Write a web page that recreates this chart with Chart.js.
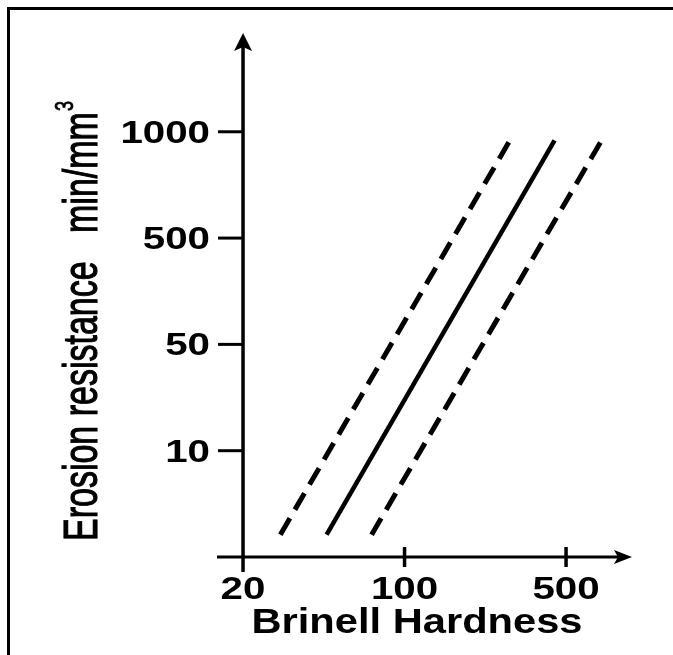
<!DOCTYPE html>
<html>
<head>
<meta charset="utf-8">
<title>Erosion resistance vs Brinell hardness</title>
<script src="https://cdn.jsdelivr.net/npm/chart.js@4/dist/chart.umd.min.js"></script>
<style>
  html, body { margin: 0; padding: 0; background: #fff; }
  #wrap { width: 673px; height: 655px; position: relative; }
</style>
</head>
<body>
<div id="wrap"><canvas id="erosionChart"></canvas></div>
<script>
// x axis: Brinell hardness (log scale), ticks as printed
const xTickValues = [20, 100, 500];
const xTickLabels = ['20', '100', '500'];

// y axis labels are printed at equal spacing, so y is kept as tick position 1..4
const yTickPositions = [1, 2, 3, 4];
const yTickLabels = ['10', '50', '500', '1000'];

// band lines (two end points each)
const lowerX = [29, 286];
const lowerY = [0.21, 3.92];
const meanX = [46, 446];
const meanY = [0.21, 3.92];
const upperX = [72, 713];
const upperY = [0.21, 3.92];

const xTitle = 'Brinell Hardness';
const yTitle = 'Erosion resistance   min/mm';
const yTitleSup = '3';

const FONT = '"Liberation Sans", Arial, Helvetica, sans-serif';

function toPoints(xs, ys) {
  return xs.map((x, i) => ({ x: x, y: ys[i] }));
}

// stretched text helper (the scan has wide lettering)
function drawText(ctx, text, x, y, opts) {
  ctx.save();
  ctx.translate(x, y);
  ctx.scale(opts.sx || 1, 1);
  if (opts.rotate) ctx.rotate(opts.rotate);
  ctx.font = opts.font;
  ctx.textAlign = opts.align || 'left';
  ctx.textBaseline = opts.baseline || 'alphabetic';
  ctx.fillStyle = '#000';
  ctx.fillText(text, 0, 0);
  if (opts.stroke) {
    ctx.strokeStyle = '#000';
    ctx.lineWidth = opts.stroke;
    ctx.strokeText(text, 0, 0);
  }
  ctx.restore();
}

// axes, arrows, ticks, labels and the frame of the scan
const axesPlugin = {
  id: 'handAxes',
  beforeDatasetsDraw(chart) {
    const ctx = chart.ctx;
    const area = chart.chartArea;
    const xs = chart.scales.x;
    const ys = chart.scales.y;
    const x0 = xs.getPixelForValue(xTickValues[0]);
    const y0 = ys.getPixelForValue(0);

    ctx.save();
    ctx.strokeStyle = '#000';
    ctx.fillStyle = '#000';

    // frame (top and left edges only are visible)
    ctx.lineWidth = 3;
    ctx.beginPath();
    ctx.moveTo(8.5, 655);
    ctx.lineTo(8.5, 8.5);
    ctx.lineTo(673, 8.5);
    ctx.stroke();

    // y axis
    ctx.lineWidth = 3.5;
    ctx.beginPath();
    ctx.moveTo(x0, area.bottom);
    ctx.lineTo(x0, area.top + 12);
    ctx.stroke();
    ctx.beginPath();
    ctx.moveTo(x0, area.top);
    ctx.lineTo(x0 - 9, area.top + 18);
    ctx.lineTo(x0, area.top + 14);
    ctx.lineTo(x0 + 9, area.top + 18);
    ctx.closePath();
    ctx.fill();

    // x axis
    ctx.lineWidth = 3;
    ctx.beginPath();
    ctx.moveTo(area.left, y0);
    ctx.lineTo(area.right - 12, y0);
    ctx.stroke();
    ctx.beginPath();
    ctx.moveTo(area.right, y0);
    ctx.lineTo(area.right - 18, y0 - 7);
    ctx.lineTo(area.right - 14, y0);
    ctx.lineTo(area.right - 18, y0 + 7);
    ctx.closePath();
    ctx.fill();

    // y ticks and labels
    ctx.lineWidth = 3;
    yTickPositions.forEach((p, i) => {
      const py = ys.getPixelForValue(p);
      ctx.beginPath();
      ctx.moveTo(x0 - 25, py);
      ctx.lineTo(x0, py);
      ctx.stroke();
      drawText(ctx, yTickLabels[i], x0 - 33, py + 11, {
        font: 'bold 31px ' + FONT, align: 'right', sx: 1.3
      });
    });

    // x ticks and labels
    xTickValues.forEach((v, i) => {
      const px = xs.getPixelForValue(v);
      if (i > 0) {
        ctx.lineWidth = 3.5;
        ctx.beginPath();
        ctx.moveTo(px, y0 - 10);
        ctx.lineTo(px, y0 + 10);
        ctx.stroke();
      }
      drawText(ctx, xTickLabels[i], px, y0 + 42, {
        font: 'bold 31px ' + FONT, align: 'center', sx: 1.3
      });
    });

    // x title
    drawText(ctx, xTitle, 417, 633, {
      font: 'bold 35px ' + FONT, align: 'center', sx: 1.19
    });

    // y title, rotated, with superscript
    const yFont = '34px ' + FONT;
    drawText(ctx, yTitle, 97, 541, {
      font: yFont, align: 'left', sx: 1.44, rotate: -Math.PI / 2, stroke: 0.8
    });
    ctx.font = yFont;
    const w = ctx.measureText(yTitle).width;
    drawText(ctx, yTitleSup, 97 - 22 * 1.44 * 0.75, 541 - w - 1, {
      font: '18px ' + FONT, align: 'left', sx: 1.44, rotate: -Math.PI / 2, stroke: 0.6
    });

    ctx.restore();
  }
};

const lineStyle = {
  showLine: true,
  pointRadius: 0,
  borderColor: '#000',
  backgroundColor: '#000',
  fill: false,
  tension: 0,
  clip: false
};

new Chart(document.getElementById('erosionChart'), {
  type: 'scatter',
  data: {
    datasets: [
      Object.assign({ label: 'lower', data: toPoints(lowerX, lowerY), borderWidth: 5, borderDash: [19, 10] }, lineStyle),
      Object.assign({ label: 'mean', data: toPoints(meanX, meanY), borderWidth: 4.5 }, lineStyle),
      Object.assign({ label: 'upper', data: toPoints(upperX, upperY), borderWidth: 5, borderDash: [19, 10] }, lineStyle)
    ]
  },
  options: {
    responsive: true,
    maintainAspectRatio: false,
    animation: false,
    layout: {
      padding: { left: 217, right: 41, top: 33, bottom: 83 }
    },
    scales: {
      x: { type: 'logarithmic', display: false, min: 15.43, max: 964.6 },
      y: { type: 'linear', display: false, min: -0.141, max: 4.929 }
    },
    plugins: {
      legend: { display: false },
      tooltip: { enabled: false }
    }
  },
  plugins: [axesPlugin]
});
</script>
</body>
</html>
